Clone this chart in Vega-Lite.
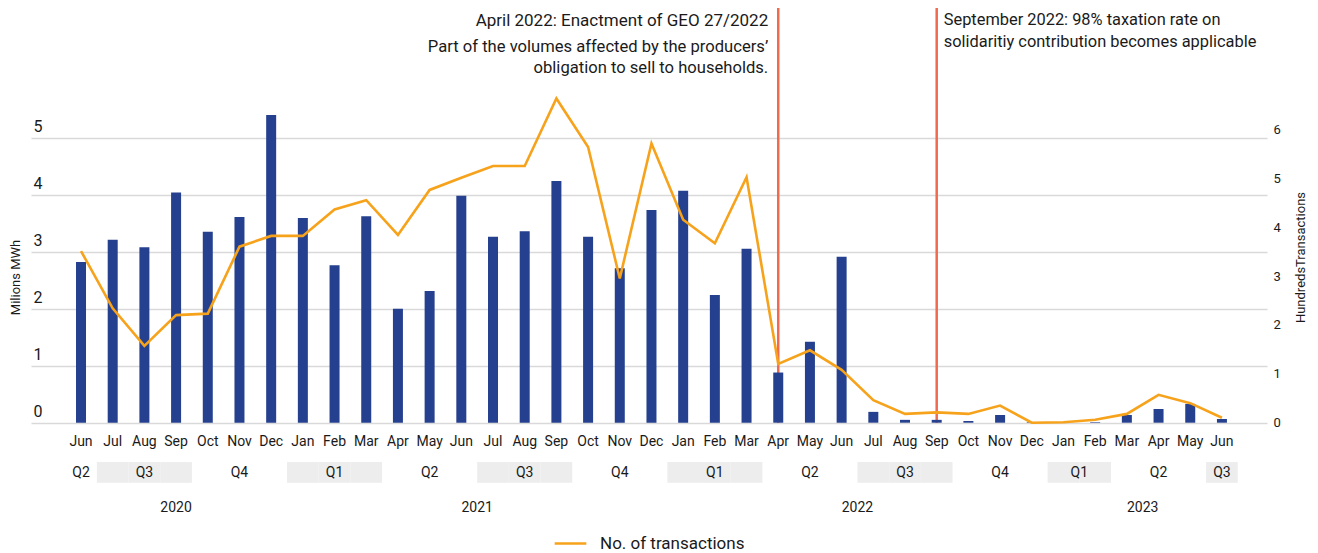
{
  "$schema": "https://vega.github.io/schema/vega-lite/v6.json",
  "width": 1236,
  "height": 514,
  "autosize": {"type": "none"},
  "padding": {"left": 31, "top": 8, "right": 51, "bottom": 31},
  "background": "white",
  "config": {
    "font": "Roboto",
    "view": {"stroke": null},
    "legend": {"layout": {"bottom": {"anchor": "middle"}}}
  },
  "datasets": {
    "months": [
      {"m": "2020-06", "mon": "Jun", "q": "Q2", "mwh": 2.82, "tx": 3.51},
      {"m": "2020-07", "mon": "Jul", "q": "Q3", "mwh": 3.21, "tx": 2.34},
      {"m": "2020-08", "mon": "Aug", "q": "Q3", "mwh": 3.08, "tx": 1.57},
      {"m": "2020-09", "mon": "Sep", "q": "Q3", "mwh": 4.04, "tx": 2.2},
      {"m": "2020-10", "mon": "Oct", "q": "Q4", "mwh": 3.35, "tx": 2.23},
      {"m": "2020-11", "mon": "Nov", "q": "Q4", "mwh": 3.61, "tx": 3.6},
      {"m": "2020-12", "mon": "Dec", "q": "Q4", "mwh": 5.4, "tx": 3.82},
      {"m": "2021-01", "mon": "Jan", "q": "Q1", "mwh": 3.59, "tx": 3.82},
      {"m": "2021-02", "mon": "Feb", "q": "Q1", "mwh": 2.76, "tx": 4.36},
      {"m": "2021-03", "mon": "Mar", "q": "Q1", "mwh": 3.62, "tx": 4.55},
      {"m": "2021-04", "mon": "Apr", "q": "Q2", "mwh": 2.0, "tx": 3.84},
      {"m": "2021-05", "mon": "May", "q": "Q2", "mwh": 2.31, "tx": 4.76},
      {"m": "2021-06", "mon": "Jun", "q": "Q2", "mwh": 3.98, "tx": 5.01},
      {"m": "2021-07", "mon": "Jul", "q": "Q3", "mwh": 3.26, "tx": 5.25},
      {"m": "2021-08", "mon": "Aug", "q": "Q3", "mwh": 3.36, "tx": 5.25},
      {"m": "2021-09", "mon": "Sep", "q": "Q3", "mwh": 4.24, "tx": 6.63},
      {"m": "2021-10", "mon": "Oct", "q": "Q4", "mwh": 3.26, "tx": 5.64},
      {"m": "2021-11", "mon": "Nov", "q": "Q4", "mwh": 2.71, "tx": 2.95},
      {"m": "2021-12", "mon": "Dec", "q": "Q4", "mwh": 3.73, "tx": 5.71},
      {"m": "2022-01", "mon": "Jan", "q": "Q1", "mwh": 4.07, "tx": 4.15},
      {"m": "2022-02", "mon": "Feb", "q": "Q1", "mwh": 2.24, "tx": 3.67},
      {"m": "2022-03", "mon": "Mar", "q": "Q1", "mwh": 3.05, "tx": 5.02},
      {"m": "2022-04", "mon": "Apr", "q": "Q2", "mwh": 0.88, "tx": 1.2},
      {"m": "2022-05", "mon": "May", "q": "Q2", "mwh": 1.42, "tx": 1.48},
      {"m": "2022-06", "mon": "Jun", "q": "Q2", "mwh": 2.91, "tx": 1.08},
      {"m": "2022-07", "mon": "Jul", "q": "Q3", "mwh": 0.19, "tx": 0.46},
      {"m": "2022-08", "mon": "Aug", "q": "Q3", "mwh": 0.05, "tx": 0.18},
      {"m": "2022-09", "mon": "Sep", "q": "Q3", "mwh": 0.05, "tx": 0.21},
      {"m": "2022-10", "mon": "Oct", "q": "Q4", "mwh": 0.03, "tx": 0.18},
      {"m": "2022-11", "mon": "Nov", "q": "Q4", "mwh": 0.135, "tx": 0.35},
      {"m": "2022-12", "mon": "Dec", "q": "Q4", "mwh": 0.01, "tx": 0.0},
      {"m": "2023-01", "mon": "Jan", "q": "Q1", "mwh": 0.01, "tx": 0.01},
      {"m": "2023-02", "mon": "Feb", "q": "Q1", "mwh": 0.01, "tx": 0.06},
      {"m": "2023-03", "mon": "Mar", "q": "Q2", "mwh": 0.135, "tx": 0.18},
      {"m": "2023-04", "mon": "Apr", "q": "Q2", "mwh": 0.24, "tx": 0.57},
      {"m": "2023-05", "mon": "May", "q": "Q2", "mwh": 0.33, "tx": 0.4},
      {"m": "2023-06", "mon": "Jun", "q": "Q3", "mwh": 0.065, "tx": 0.1}
    ],
    "quarterMid": [
      {"m": "2020-06", "q": "Q2"},
      {"m": "2020-08", "q": "Q3"},
      {"m": "2020-11", "q": "Q4"},
      {"m": "2021-02", "q": "Q1"},
      {"m": "2021-05", "q": "Q2"},
      {"m": "2021-08", "q": "Q3"},
      {"m": "2021-11", "q": "Q4"},
      {"m": "2022-02", "q": "Q1"},
      {"m": "2022-05", "q": "Q2"},
      {"m": "2022-08", "q": "Q3"},
      {"m": "2022-11", "q": "Q4"},
      {"m": "2023-04", "q": "Q2"},
      {"m": "2023-06", "q": "Q3"}
    ],
    "quarterEdge": [
      {"m": "2023-01", "q": "Q1"}
    ],
    "yearMid": [
      {"m": "2020-09", "y": "2020"}
    ],
    "yearEdge": [
      {"m": "2021-06", "y": "2021"},
      {"m": "2022-06", "y": "2022"},
      {"m": "2023-03", "y": "2023"}
    ],
    "events": [
      {"m": "2022-04"},
      {"m": "2022-09"}
    ],
    "noteA1": [
      {"m": "2022-04", "t": "April 2022: Enactment of GEO 27/2022"}
    ],
    "noteA2": [
      {"m": "2022-04", "t": ["Part of the volumes affected by the producers’", "obligation to sell to households."]}
    ],
    "noteB": [
      {"m": "2022-09", "t": ["September 2022: 98% taxation rate on", "solidaritiy contribution becomes applicable"]}
    ]
  },
  "encoding": {
    "x": {
      "field": "m",
      "type": "ordinal",
      "axis": null,
      "scale": {"paddingInner": 0, "paddingOuter": 1, "align": 0.539}
    }
  },
  "layer": [
    {
      "layer": [
        {
          "data": {"name": "months"},
          "transform": [{"filter": "datum.q === 'Q1' || datum.q === 'Q3'"}],
          "mark": {"type": "rect", "color": "#ededed"},
          "encoding": {
            "y": {"datum": -0.691, "type": "quantitative", "scale": {"domain": [-1.742, 7.275], "nice": false}},
            "y2": {"datum": -1.055}
          }
        },
        {
          "data": {"name": "events"},
          "mark": {"type": "rule", "color": "#ef6a50", "strokeWidth": 2.5},
          "encoding": {
            "y": {"datum": 0, "type": "quantitative", "scale": {"domain": [-1.742, 7.275], "nice": false}},
            "y2": {"datum": 7.275}
          }
        },
        {
          "data": {"name": "months"},
          "mark": {"type": "bar", "width": 10, "color": "#25408f"},
          "encoding": {
            "y": {
              "field": "mwh",
              "type": "quantitative",
              "scale": {"domain": [-1.742, 7.275], "nice": false},
              "axis": {
                "orient": "left",
                "values": [0, 1, 2, 3, 4, 5],
                "format": "d",
                "title": "Milions MWh",
                "grid": true,
                "gridColor": "#d9d9d9",
                "gridWidth": 1.6,
                "domain": false,
                "ticks": false,
                "tickSize": 0,
                "labelAlign": "left",
                "labelBaseline": "middle",
                "labelPadding": -2,
                "labelOffset": -11,
                "labelFontSize": 16,
                "labelColor": "#1a1a1a",
                "titleFontSize": 13,
                "titleFontWeight": "normal",
                "titleColor": "#1a1a1a",
                "titleAngle": 270,
                "titleAlign": "center",
                "titleBaseline": "middle",
                "titleX": -16,
                "titleY": 269
              }
            }
          }
        },
        {
          "data": {"name": "months"},
          "mark": {"type": "text", "fontSize": 14, "color": "#1a1a1a", "baseline": "middle"},
          "encoding": {
            "y": {"datum": -0.33, "type": "quantitative", "scale": {"domain": [-1.742, 7.275], "nice": false}},
            "text": {"field": "mon"}
          }
        },
        {
          "data": {"name": "quarterMid"},
          "mark": {"type": "text", "fontSize": 14, "color": "#1a1a1a", "baseline": "middle"},
          "encoding": {
            "y": {"datum": -0.875, "type": "quantitative", "scale": {"domain": [-1.742, 7.275], "nice": false}},
            "text": {"field": "q"}
          }
        },
        {
          "data": {"name": "quarterEdge"},
          "mark": {"type": "text", "fontSize": 14, "color": "#1a1a1a", "baseline": "middle"},
          "encoding": {
            "x": {"field": "m", "type": "ordinal", "axis": null, "bandPosition": 1},
            "y": {"datum": -0.875, "type": "quantitative", "scale": {"domain": [-1.742, 7.275], "nice": false}},
            "text": {"field": "q"}
          }
        },
        {
          "data": {"name": "yearMid"},
          "mark": {"type": "text", "fontSize": 14, "color": "#1a1a1a", "baseline": "middle"},
          "encoding": {
            "y": {"datum": -1.488, "type": "quantitative", "scale": {"domain": [-1.742, 7.275], "nice": false}},
            "text": {"field": "y"}
          }
        },
        {
          "data": {"name": "yearEdge"},
          "mark": {"type": "text", "fontSize": 14, "color": "#1a1a1a", "baseline": "middle"},
          "encoding": {
            "x": {"field": "m", "type": "ordinal", "axis": null, "bandPosition": 1},
            "y": {"datum": -1.488, "type": "quantitative", "scale": {"domain": [-1.742, 7.275], "nice": false}},
            "text": {"field": "y"}
          }
        },
        {
          "data": {"name": "noteA1"},
          "mark": {"type": "text", "fontSize": 17, "color": "#1a1a1a", "align": "right", "baseline": "alphabetic", "dx": -10},
          "encoding": {
            "y": {"datum": 6.96, "type": "quantitative", "scale": {"domain": [-1.742, 7.275], "nice": false}},
            "text": {"field": "t"}
          }
        },
        {
          "data": {"name": "noteA2"},
          "mark": {"type": "text", "fontSize": 16.6, "color": "#1a1a1a", "align": "right", "baseline": "alphabetic", "dx": -10, "lineHeight": 21.6},
          "encoding": {
            "y": {"datum": 6.509, "type": "quantitative", "scale": {"domain": [-1.742, 7.275], "nice": false}},
            "text": {"field": "t"}
          }
        },
        {
          "data": {"name": "noteB"},
          "mark": {"type": "text", "fontSize": 16.4, "color": "#1a1a1a", "align": "left", "baseline": "alphabetic", "dx": 7, "lineHeight": 21.5},
          "encoding": {
            "y": {"datum": 6.975, "type": "quantitative", "scale": {"domain": [-1.742, 7.275], "nice": false}},
            "text": {"field": "t"}
          }
        }
      ]
    },
    {
      "layer": [
        {
          "data": {"name": "months"},
          "mark": {"type": "line", "strokeWidth": 2.6},
          "encoding": {
            "y": {
              "field": "tx",
              "type": "quantitative",
              "scale": {"domain": [-2.031, 8.481], "nice": false},
              "axis": {
                "orient": "right",
                "values": [0, 1, 2, 3, 4, 5, 6],
                "format": "d",
                "title": "HundredsTransactions",
                "grid": false,
                "domain": false,
                "ticks": false,
                "tickSize": 0,
                "labelAlign": "left",
                "labelBaseline": "middle",
                "labelPadding": 6,
                "labelFontSize": 13,
                "labelColor": "#1a1a1a",
                "titleFontSize": 13,
                "titleFontWeight": "normal",
                "titleColor": "#1a1a1a",
                "titleAngle": 270,
                "titleAlign": "center",
                "titleBaseline": "middle",
                "titleX": 33,
                "titleY": 249
              }
            },
            "color": {
              "datum": "No. of transactions",
              "type": "nominal",
              "scale": {"range": ["#f7a21b"]},
              "legend": {
                "orient": "bottom",
                "title": null,
                "symbolType": "stroke",
                "symbolStrokeWidth": 2.6,
                "symbolSize": 1000,
                "labelFontSize": 17,
                "labelColor": "#1a1a1a",
                "labelOffset": 12,
                "offset": 4
              }
            }
          }
        }
      ]
    }
  ],
  "resolve": {"scale": {"y": "independent"}}
}
